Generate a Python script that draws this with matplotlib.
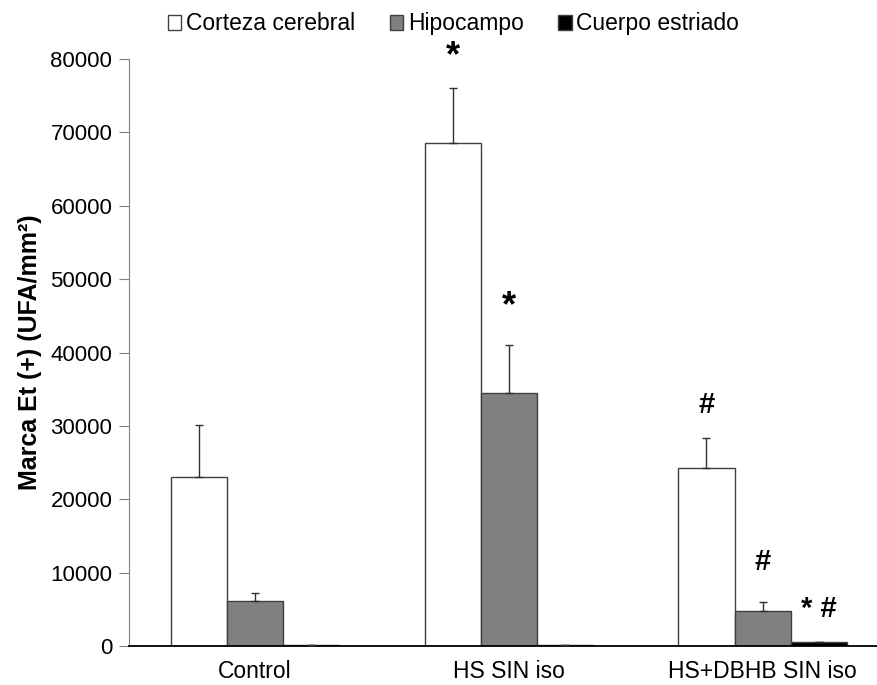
import numpy as np
import matplotlib.pyplot as plt

plt.rcParams['font.family'] = ['Liberation Sans', 'DejaVu Sans']

grupos = ["Control", "HS SIN iso", "HS+DBHB SIN iso"]
series = ["Corteza cerebral", "Hipocampo", "Cuerpo estriado"]
colores = ["white", "#808080", "black"]

corteza = [23100, 68500, 24250]
hipocampo = [6150, 34500, 4750]
estriado = [80, 80, 500]

err_corteza = [7000, 7500, 4100]
err_hipocampo = [1100, 6500, 1200]
err_estriado = [0, 0, 100]

# marcas de significancia: (grupo, serie, texto, altura)
marcas = [
    (1, 0, "*", 80300),
    (1, 1, "*", 46300),
    (2, 0, "#", 32900),
    (2, 1, "#", 11400),
    (2, 2, "* #", 5100),
]

valores = [corteza, hipocampo, estriado]
errores = [err_corteza, err_hipocampo, err_estriado]

fig = plt.figure(figsize=(8.78, 6.85), dpi=100)
ax = fig.add_axes([0.1469, 0.0569, 0.8531, 0.857])

x = np.arange(len(grupos))
ancho = 0.221
for i in range(3):
    pos = x + (i - 1) * ancho
    ax.bar(pos, valores[i], ancho, color=colores[i], edgecolor="#404040",
           linewidth=1.0, label=series[i], zorder=2)
    err = np.array(errores[i])
    ax.errorbar(pos, valores[i], yerr=[np.zeros(3), err], fmt="none",
                ecolor="#303030", elinewidth=1.0, capsize=3, capthick=1.0, zorder=3)

for g, s, txt, h in marcas:
    tam = 26 if txt == "*" else 21
    ax.text(x[g] + (s - 1) * ancho, h, txt, ha="center", va="center",
            fontsize=tam, fontweight="bold", clip_on=False)

ax.set_xlim(-0.497, 2.455)
ax.set_ylim(0, 80000)
ax.set_yticks(np.arange(0, 80001, 10000))
ax.set_xticks(x)
ax.set_xticklabels(grupos, fontsize=16.5)
ax.tick_params(axis="y", labelsize=16, length=7, direction="out", color="#808080", pad=5)
ax.tick_params(axis="x", length=0, pad=10)
ax.set_ylabel("Marca Et (+) (UFA/mm²)", fontsize=18, fontweight="bold", labelpad=6)

for lado in ["top", "right"]:
    ax.spines[lado].set_visible(False)
ax.spines["left"].set_color("#808080")
ax.spines["bottom"].set_color("black")
ax.spines["bottom"].set_linewidth(1.3)

fig.legend(loc="upper center", bbox_to_anchor=(0.5165, 1.012), ncol=3, frameon=False,
           fontsize=16.5, handlelength=0.6, handleheight=0.6, handletextpad=0.2,
           columnspacing=1.5)

fig.savefig("out.png", dpi=100)
